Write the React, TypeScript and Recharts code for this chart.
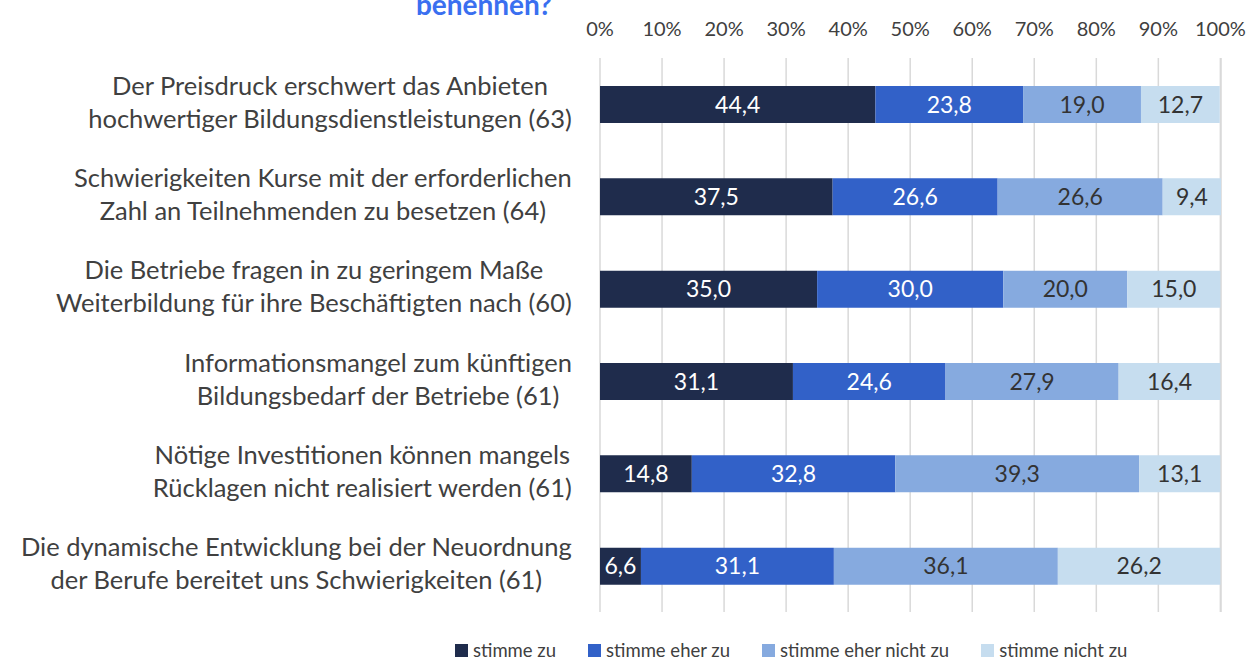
import React from 'react';
import { BarChart, Bar, XAxis, YAxis, CartesianGrid, LabelList } from 'recharts';

const categories = [
  'Der Preisdruck erschwert das Anbieten\nhochwertiger Bildungsdienstleistungen (63)',
  'Schwierigkeiten Kurse mit der erforderlichen\nZahl an Teilnehmenden zu besetzen (64)',
  'Die Betriebe fragen in zu geringem Maße\nWeiterbildung für ihre Beschäftigten nach (60)',
  'Informationsmangel zum künftigen\nBildungsbedarf der Betriebe (61)',
  'Nötige Investitionen können mangels\nRücklagen nicht realisiert werden (61)',
  'Die dynamische Entwicklung bei der Neuordnung\nder Berufe bereitet uns Schwierigkeiten (61)',
];
const stimmeZu = [44.4, 37.5, 35.0, 31.1, 14.8, 6.6];
const stimmeEherZu = [23.8, 26.6, 30.0, 24.6, 32.8, 31.1];
const stimmeEherNichtZu = [19.0, 26.6, 20.0, 27.9, 39.3, 36.1];
const stimmeNichtZu = [12.7, 9.4, 15.0, 16.4, 13.1, 26.2];
const seriesNames = ['stimme zu', 'stimme eher zu', 'stimme eher nicht zu', 'stimme nicht zu'];
const seriesKeys = ['s1', 's2', 's3', 's4'];
const seriesColors = ['#1F2C4C', '#3261C8', '#86AADF', '#C6DDEF'];
const labelColors = ['#FFFFFF', '#FFFFFF', '#333333', '#333333'];
const xTicks = [0, 10, 20, 30, 40, 50, 60, 70, 80, 90, 100];
const titleTail = 'benennen?';

const data = categories.map((name, i) => ({
  name,
  s1: stimmeZu[i],
  s2: stimmeEherZu[i],
  s3: stimmeEherNichtZu[i],
  s4: stimmeNichtZu[i],
}));

const FONT = 'Lato, "Open Sans", sans-serif';
const CAT_SIZE = 25.5;

let ctx: CanvasRenderingContext2D | null = null;
function measure(s: string, font: string): number {
  if (!ctx && typeof document !== 'undefined') ctx = document.createElement('canvas').getContext('2d');
  if (!ctx) return s.length * 10;
  ctx.font = font;
  return ctx.measureText(s).width;
}

const CategoryTick = (props: any) => {
  const { y, payload } = props;
  const lines: string[] = String(payload.value).split('\n');
  const font = `${CAT_SIZE}px Lato`;
  const widths = lines.map((l) => measure(l, font));
  const block = Math.max(...widths);
  const right = 572;
  const cx = right - block / 2;
  const lh = 33;
  const mid = y - 3;
  return (
    <g>
      {lines.map((l, i) => (
        <text
          key={i}
          x={cx}
          y={mid + (i - (lines.length - 1) / 2) * lh}
          textAnchor="middle"
          dominantBaseline="central"
          fill="#404040"
          fontSize={CAT_SIZE}
          fontFamily={FONT}
        >
          {l}
        </text>
      ))}
    </g>
  );
};

const fmt = (v: any) => Number(v).toFixed(1).replace('.', ',');

export default function App() {
  return (
    <div style={{ position: 'absolute', left: 0, top: 0, width: 1248, height: 668, background: '#fff', fontFamily: FONT, overflow: 'hidden' }}>
      <div
        style={{
          position: 'absolute',
          left: 0,
          top: -10,
          width: 552,
          textAlign: 'right',
          fontSize: 28,
          lineHeight: '28px',
          fontWeight: 700,
          color: '#3A6FF0',
          fontFamily: FONT,
        }}
      >
        {titleTail}
      </div>
      <BarChart
        width={1248}
        height={668}
        data={data}
        layout="vertical"
        margin={{ top: 20, right: 27, bottom: 56, left: 0 }}
        barSize={37}
      >
        <CartesianGrid horizontal={false} stroke="#D9D9D9" strokeWidth={1.5} />
        <XAxis
          type="number"
          orientation="top"
          domain={[0, 100]}
          ticks={xTicks}
          tickFormatter={(v) => `${v}%`}
          axisLine={false}
          tickLine={false}
          height={38}
          tickMargin={16}
          interval={0}
          tick={{ fill: '#404040', fontSize: 20, fontFamily: FONT }}
        />
        <YAxis
          type="category"
          dataKey="name"
          width={600}
          axisLine={false}
          tickLine={false}
          interval={0}
          tick={<CategoryTick />}
        />
        {seriesKeys.map((k, i) => (
          <Bar key={k} dataKey={k} name={seriesNames[i]} stackId="a" fill={seriesColors[i]} isAnimationActive={false}>
            <LabelList
              dataKey={k}
              position="center"
              formatter={fmt}
              fill={labelColors[i]}
              style={{ fontSize: 23, fontFamily: FONT }}
            />
          </Bar>
        ))}
      </BarChart>
      <div
        style={{
          position: 'absolute',
          left: 455,
          top: 639,
          display: 'flex',
          alignItems: 'center',
          fontSize: 18.5,
          color: '#404040',
          fontFamily: FONT,
          whiteSpace: 'nowrap',
        }}
      >
        {seriesNames.map((n, i) => (
          <div key={n} style={{ display: 'flex', alignItems: 'center', marginRight: 32 }}>
            <span style={{ display: 'inline-block', width: 13, height: 13, background: seriesColors[i], marginRight: 5 }} />
            <span>{n}</span>
          </div>
        ))}
      </div>
    </div>
  );
}
